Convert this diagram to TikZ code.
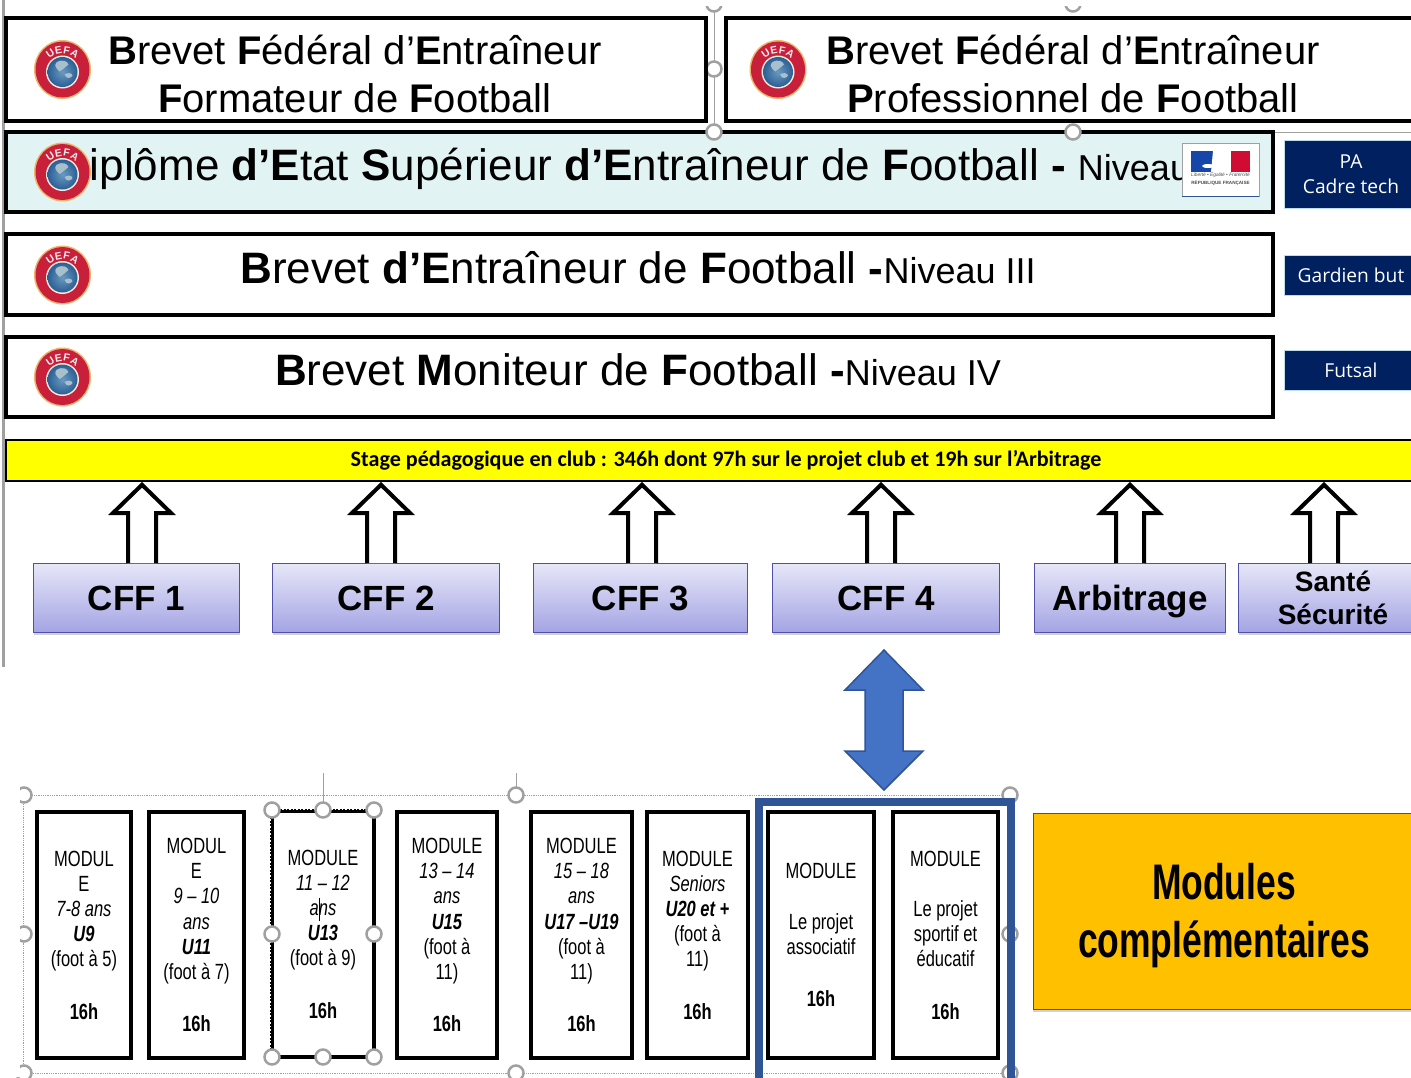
\documentclass[tikz,border=0pt]{standalone}
\usepackage{fontspec}
\usepackage{xcolor}
\usepackage{tikz}
\usetikzlibrary{calc,shadows}
\setmainfont{Liberation Sans}
\newfontfamily\narrowfont[FakeStretch=0.75]{Liberation Sans}
\newfontfamily\orangefont[FakeStretch=0.71]{Liberation Sans}
\newfontfamily\stagefont{Carlito}
\newfontfamily\tagfont{Open Sans}
\definecolor{dipfill}{HTML}{E2F3F3}
\definecolor{navy}{HTML}{002060}
\definecolor{tagline}{HTML}{BFDDE8}
\definecolor{stagefill}{HTML}{FFFF00}
\definecolor{cfftop}{HTML}{E6E6F8}
\definecolor{cffbot}{HTML}{A4A4E4}
\definecolor{cffline}{HTML}{5050A8}
\definecolor{bluefill}{HTML}{4472C4}
\definecolor{blueline}{HTML}{2F5597}
\definecolor{orange}{HTML}{FFC000}
\definecolor{hgray}{HTML}{A0A0A0}
\definecolor{uefared}{HTML}{C8203A}
\definecolor{uefagold}{HTML}{EDB56A}
\definecolor{uefablue}{HTML}{2B5F95}
\definecolor{uefalight}{HTML}{6A9AC0}
\definecolor{uefaland}{HTML}{A8C0CC}
\definecolor{flagblue}{HTML}{1646A8}
\definecolor{flagred}{HTML}{D00C33}
\tikzset{
  lvl/.style={draw=black, line width=3.6pt, minimum height=#1, inner sep=0pt},
  ttl/.style={font=\fontsize{40}{48}\selectfont, align=center, inner sep=0pt},
  big/.style={font=\fontsize{44}{50}\selectfont, inner sep=0pt},
  tag/.style={draw=tagline, line width=1pt, fill=navy, text=white, align=center, minimum width=134,
    font=\tagfont\fontsize{19.2}{25.5}\selectfont, inner sep=0pt},
  cff/.style={draw=cffline, line width=1pt, top color=cfftop, bottom color=cffbot, minimum height=69,
    inner sep=0pt, align=center, font=\bfseries\fontsize{35}{40}\selectfont,
    drop shadow={shadow xshift=0pt, shadow yshift=-2.5pt, opacity=.35}},
  hollow/.style={draw=black, fill=white, line width=4pt, line join=miter},
  modu/.style={draw=black, fill=white, line width=4.5pt, minimum height=246, inner sep=0pt, align=center,
    font=\narrowfont\fontsize{22}{25.2}\selectfont},
  hnd/.style={circle, draw=hgray, fill=white, line width=2.5pt, minimum size=15, inner sep=0pt},
  sel/.style={draw=hgray, line width=.8pt, densely dotted},
  thin gray/.style={draw=hgray, line width=1pt},
  let/.style={text=white!90!uefared, font=\bfseries\fontsize{10.5}{11}\selectfont, inner sep=0pt},
  uefa/.pic={
    \fill[uefagold] (0,0) ellipse [x radius=28.5, y radius=29.5];
    \fill[uefared] (0,0) ellipse [x radius=27, y radius=28];
    \fill[white!75!uefagold] (0,2.5) circle (16.5);
    \shade[inner color=uefalight, outer color=uefablue] (0,2.5) circle (15);
    \fill[uefaland] (-6,-7) .. controls (0,-11) and (5,-8) .. (6,-5) .. controls (3,-3) and (1,0) .. (-3,2)
      .. controls (-6,-1) and (-9,-4) .. (-6,-7) -- cycle;
    \fill[uefaland] (2,5) .. controls (5,3) and (9,3) .. (10,6) .. controls (8,9) and (4,10) .. (2,5) -- cycle;
    \node[let, rotate=34] (la) at (-12.3,-15.7) {U};
    \node[let, rotate=11] (lb) at (-4.2,-19.1) {E};
    \node[let, rotate=-11] (lc) at (4.2,-19.1) {F};
    \node[let, rotate=-34] (ld) at (12.3,-15.7) {A};
  },
}
% block arrow from a CFF box up to the stage band
\newcommand{\uparr}[3]{
  \coordinate (ax#1) at (#3,0);
  \draw[hollow] ($(#1.north -| ax#1)+(-14,0)$) -- ++(0,-50) -- ++(-15,0)
    -- ($(#2.south -| ax#1)+(0,3)$) -- ($(#1.north -| ax#1)+(29,-50)$) -- ++(-15,0) -- ++(0,50);
}
\begin{document}
\begin{tikzpicture}[x=1pt,y=-1pt]
  \path[use as bounding box, clip] (0,0) rectangle (1411,1077);
  \fill[white] (0,0) rectangle (1411,1077);

  % selection lines behind the boxes
  \draw[hgray, line width=3pt] (3,0) -- (3,667);
  \draw[thin gray] (714,8) -- (714,132);
  \draw[thin gray] (706,132) -- (1411,132);
  \node[hnd] (htopa) at (714,4) {};
  \node[hnd] (htopb) at (1073,4) {};
  \node[hnd] (hmida) at (714,69) {};
  \fill[white] (700,0) rectangle (1090,6);

  % level boxes
  \node[lvl=103, minimum width=700] (fora) at (356,69.5) {};
  \node[lvl=103, minimum width=694] (pro) at (1073,69.5) {};
  \node[lvl=80, minimum width=1267, fill=dipfill] (dip) at (639.5,172) {};
  \node[lvl=81, minimum width=1267] (bef) at (639.5,274.5) {};
  \node[lvl=80, minimum width=1267] (bmf) at (639.5,377) {};
  \node[hnd] (hdipa) at (714,132) {};
  \node[hnd] (hdipb) at (1073,132) {};

  \node[ttl] (tfora) at (355,74) {\textbf{B}revet \textbf{F}édéral d’\textbf{E}ntraîneur\\\textbf{F}ormateur de \textbf{F}ootball};
  \node[ttl] (tpro) at (1073,74) {\textbf{B}revet \textbf{F}édéral d’\textbf{E}ntraîneur\\\textbf{P}rofessionnel de \textbf{F}ootball};
  \node[big, anchor=west] (tdip) at (58,169) {Diplôme \textbf{d’E}tat \textbf{S}upérieur \textbf{d’E}ntraîneur de \textbf{F}ootball \textbf{-} {\fontsize{36}{40}\selectfont Niveau}};
  \node[big] (tbef) at (638,268) {\textbf{B}revet \textbf{d’E}ntraîneur de \textbf{F}ootball \textbf{-}{\fontsize{36}{40}\selectfont Niveau III}};
  \node[big] (tbmf) at (638,370) {\textbf{B}revet \textbf{M}oniteur de \textbf{F}ootball \textbf{-}{\fontsize{36}{40}\selectfont Niveau IV}};

  \pic (ua) at (62.5,69.5) {uefa};
  \pic (ub) at (778,69.5) {uefa};
  \pic (uc) at (62.5,172) {uefa};
  \pic (ud) at (62.5,275) {uefa};
  \pic (ue) at (62.5,377) {uefa};

  % flag
  \node[draw=hgray, fill=white, line width=.8pt, minimum width=77, minimum height=53, inner sep=0pt] (flag) at (1220.5,170) {};
  \draw[blueline, line width=1pt] (flag.south west) -- (flag.south east);
  \fill[flagblue] (1191,151) rectangle (1215,172);
  \fill[flagred] (1231,151) rectangle (1250,172);
  \fill[white] (1208,166) ellipse [x radius=6, y radius=2];
  \fill[white] (1213,151) -- (1219,151) -- (1215,172) -- (1211,172) -- cycle;
  \node[font=\itshape\fontsize{4.8}{5}\selectfont, text=black!70, inner sep=0pt] (fla) at (1220.5,174.5) {Liberté • Égalité • Fraternité};
  \node[font=\bfseries\fontsize{4.6}{5}\selectfont, text=black!70, inner sep=0pt] (flb) at (1220.5,183) {RÉPUBLIQUE FRANÇAISE};

  % tags on the right
  \node[tag, minimum height=68] (pa) at (1351,174) {PA\\Cadre tech};
  \node[tag, minimum height=40] (gb) at (1351,275) {Gardien but};
  \node[tag, minimum height=40] (fu) at (1351,370) {Futsal};

  % stage band
  \node[draw=black, line width=1.5pt, fill=stagefill, minimum width=1440, minimum height=41, inner sep=0pt,
    font=\stagefont\bfseries\fontsize{22.1}{25}\selectfont] (stage) at (726,460.5) {\raisebox{-1.5pt}{Stage pédagogique en club : 346h dont 97h sur le projet club et 19h sur l’Arbitrage}};

  % CFF boxes
  \node[cff, minimum width=206] (cfa) at (136.5,598) {CFF 1};
  \node[cff, minimum width=227] (cfb) at (386,598) {CFF 2};
  \node[cff, minimum width=214] (cfc) at (640.5,598) {CFF 3};
  \node[cff, minimum width=227] (cfd) at (886,598) {CFF 4};
  \node[cff, minimum width=191] (arb) at (1130,598) {\raisebox{0pt}[\height][0pt]{Arbitrage}};
  \node[cff, minimum width=189, font=\bfseries\fontsize{28}{33}\selectfont] (sante) at (1333,598) {Santé\\Sécurité};

  \uparr{cfa}{stage}{142}
  \uparr{cfb}{stage}{381}
  \uparr{cfc}{stage}{642}
  \uparr{cfd}{stage}{881}
  \uparr{arb}{stage}{1130}
  \uparr{sante}{stage}{1324}

  % double arrow between CFF 4 and the framed modules
  \coordinate (dtop) at (884,650);
  \coordinate (dbot) at (884,790);
  \draw[draw=blueline, fill=bluefill, line width=1.5pt] (dtop) -- ++(39,40) -- ++(-20,0) -- ++(0,61) -- ++(20,0)
    -- (dbot) -- ++(-39,-39) -- ++(20,0) -- ++(0,-61) -- ++(-20,0) -- cycle;

  % module group selection
  \draw[sel] (23,795) rectangle (1010,1073);
  \draw[thin gray] (516,773) -- (516,795);
  \draw[thin gray] (323,773) -- (323,809);
  \node[hnd] (hga) at (24,795) {};
  \node[hnd] (hgb) at (516,795) {};
  \node[hnd] (hgc) at (1010,795) {};
  \node[hnd] (hgd) at (24,934) {};
  \node[hnd] (hge) at (1010,934) {};
  \node[hnd] (hgf) at (24,1073) {};
  \node[hnd] (hgg) at (516,1073) {};
  \node[hnd] (hgh) at (1010,1073) {};
  \fill[white] (0,775) rectangle (20,1077);

  % modules
  \node[modu, minimum width=94] (ma) at (84,935) {MODUL\\E\\\textit{7-8 ans}\\\textbf{\textit{U9}}\\(foot à 5)\\[27pt]\textbf{16h}};
  \node[modu, minimum width=95] (mb) at (196.5,935) {MODUL\\E\\\textit{9 – 10}\\\textit{ans}\\\textbf{\textit{U11}}\\(foot à 7)\\[27pt]\textbf{16h}};
  \node[modu, minimum width=102] (mc) at (323,934) {MODULE\\\textit{11 – 12}\\\textit{ans}\\\textbf{\textit{U13}}\\(foot à 9)\\[27pt]\textbf{16h}};
  \node[modu, minimum width=100] (md) at (447,935) {MODULE\\\textit{13 – 14}\\\textit{ans}\\\textbf{\textit{U15}}\\(foot à\\11)\\[27pt]\textbf{16h}};
  \node[modu, minimum width=101] (me) at (581.5,935) {MODULE\\\textit{15 – 18}\\\textit{ans}\\\textbf{\textit{U17 –U19}}\\(foot à\\11)\\[27pt]\textbf{16h}};
  \node[modu, minimum width=101] (mf) at (697.5,935) {MODULE\\\textit{Seniors}\\\textbf{\textit{U20 et +}}\\(foot à\\11)\\[27pt]\textbf{16h}};
  \node[modu, minimum width=106] (mg) at (821,935) {MODULE\\[25.2pt]Le projet\\associatif\\[27pt]\textbf{16h}};
  \node[modu, minimum width=105] (mh) at (945.5,935) {MODULE\\[25.2pt]Le projet\\sportif et\\éducatif\\[27pt]\textbf{16h}};

  % selected module
  \draw[white, line width=1.5pt, dotted] (mc.north west) rectangle (mc.south east);
  \draw[black, line width=.8pt] (319,898) -- (319,921);
  \node[hnd] (hma) at (272,810) {};
  \node[hnd] (hmb) at (323,810) {};
  \node[hnd] (hmc) at (374,810) {};
  \node[hnd] (hmd) at (272,934) {};
  \node[hnd] (hme) at (374,934) {};
  \node[hnd] (hmf) at (272,1057) {};
  \node[hnd] (hmg) at (323,1057) {};
  \node[hnd] (hmh) at (374,1057) {};

  % blue frame
  \node[draw=blueline, line width=8pt, minimum width=252, minimum height=300, inner sep=0pt] (frame) at (885,952) {};

  % orange box
  \node[draw=blueline, line width=1pt, fill=orange, minimum width=382, minimum height=196, inner sep=0pt, align=center,
    font=\orangefont\bfseries\fontsize{50}{58}\selectfont,
    drop shadow={shadow xshift=0pt, shadow yshift=-2.5pt, opacity=.35}] (compl) at (1224,911) {\rule{0pt}{45pt}Modules\\complémentaires};
\end{tikzpicture}
\end{document}
